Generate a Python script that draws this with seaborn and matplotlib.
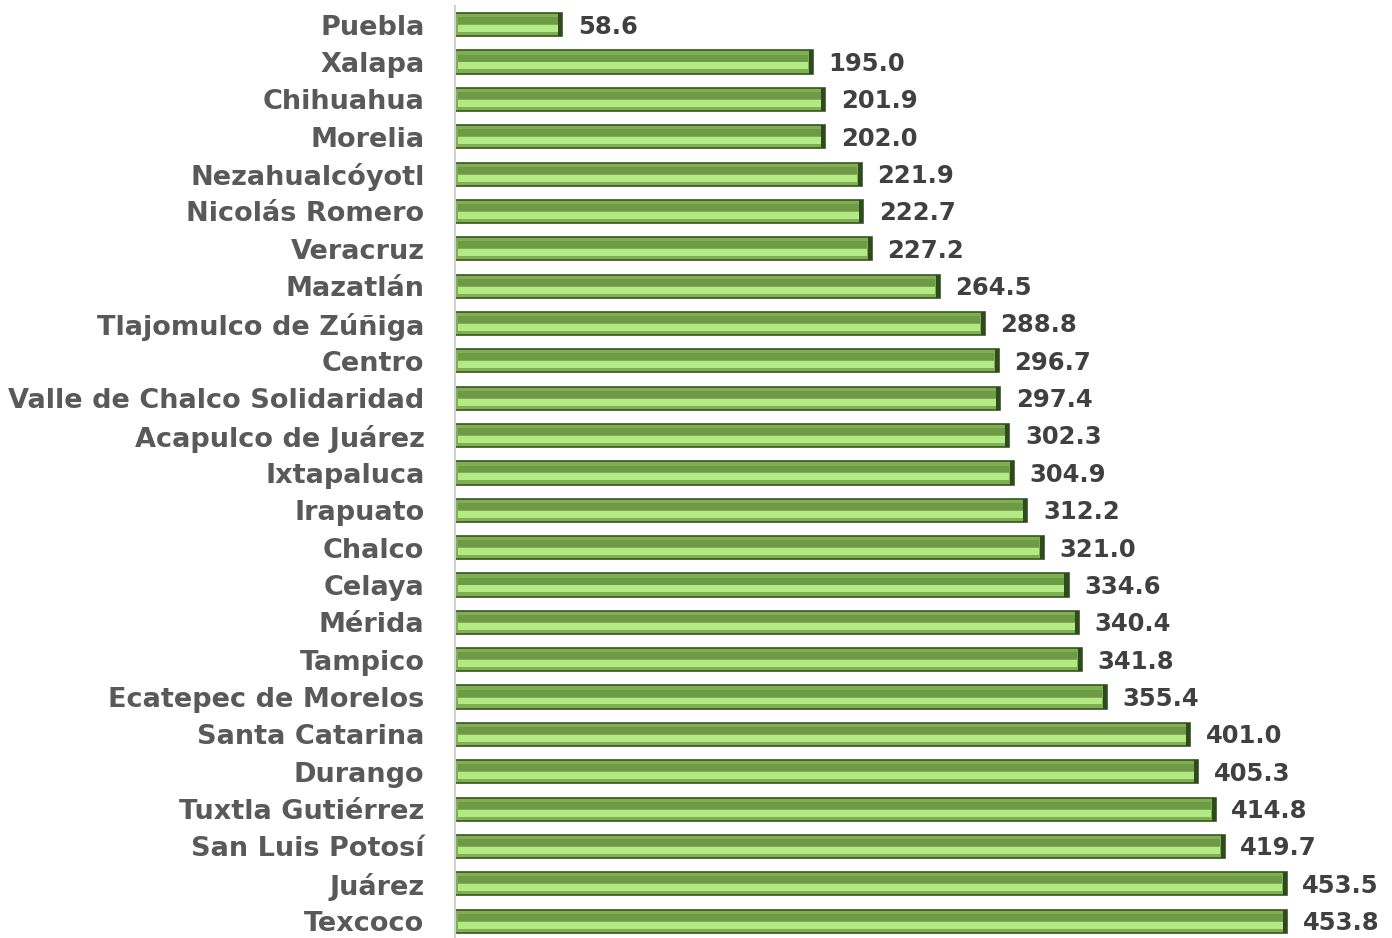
import matplotlib
matplotlib.use("Agg")
import matplotlib.pyplot as plt
import seaborn as sns
import pandas as pd
from matplotlib.patches import Rectangle

cities = ["Puebla", "Xalapa", "Chihuahua", "Morelia", "Nezahualcóyotl", "Nicolás Romero",
          "Veracruz", "Mazatlán", "Tlajomulco de Zúñiga", "Centro",
          "Valle de Chalco Solidaridad", "Acapulco de Juárez", "Ixtapaluca", "Irapuato",
          "Chalco", "Celaya", "Mérida", "Tampico", "Ecatepec de Morelos", "Santa Catarina",
          "Durango", "Tuxtla Gutiérrez", "San Luis Potosí", "Juárez", "Texcoco"]
values = [58.6, 195.0, 201.9, 202.0, 221.9, 222.7, 227.2, 264.5, 288.8, 296.7,
          297.4, 302.3, 304.9, 312.2, 321.0, 334.6, 340.4, 341.8, 355.4, 401.0,
          405.3, 414.8, 419.7, 453.5, 453.8]

df = pd.DataFrame({"city": cities, "value": values})

sns.set_theme(style="white")
plt.rcParams['font.family'] = ['DejaVu Sans']

fig = plt.figure(figsize=(13.92, 9.38), dpi=100)
ax = fig.add_axes([455/1392, 0, (1392-455)/1392, (938-6.0)/938])

sns.barplot(data=df, y="city", x="value", orient="h", color="#7DB04F",
            width=0.62, edgecolor="#3B5323", linewidth=1.2, saturation=1, ax=ax)

for p in ax.patches:
    x0, y0, w, h = p.get_x(), p.get_y(), p.get_width(), p.get_height()
    ax.add_patch(Rectangle((x0 + 1.5, y0 + h*0.18), w - 4, h*0.30, facecolor="#6E9A48",
                           edgecolor="none", zorder=p.get_zorder()+0.1))
    ax.add_patch(Rectangle((x0 + 1.5, y0 + h*0.52), w - 4, h*0.30, facecolor="#B3EA85",
                           edgecolor="none", zorder=p.get_zorder()+0.1))
    ax.add_patch(Rectangle((x0 + w - 2.2, y0), 2.2, h, facecolor="#2F4A1E",
                           edgecolor="none", zorder=p.get_zorder()+0.2))

for i, v in enumerate(values):
    ax.text(v + 8.5, i + 0.05, f"{v:.1f}", va="center", ha="left",
            fontsize=17.5, fontweight="bold", color="#404040")

ax.set_xlim(0, (1392-455)/1.8336)
ax.set_ylim(24.45, -0.5)
ax.set_xlabel("")
ax.set_ylabel("")
ax.set_xticks([])
ax.tick_params(axis="y", length=0, pad=22)
for lbl in ax.get_yticklabels():
    lbl.set_fontsize(19.5)
    lbl.set_fontweight("bold")
    lbl.set_color("#595959")
for s in ["top", "right", "bottom"]:
    ax.spines[s].set_visible(False)
ax.spines["left"].set_color("#D0D0D0")
ax.spines["left"].set_linewidth(1.5)

fig.savefig("out.png", dpi=100)
